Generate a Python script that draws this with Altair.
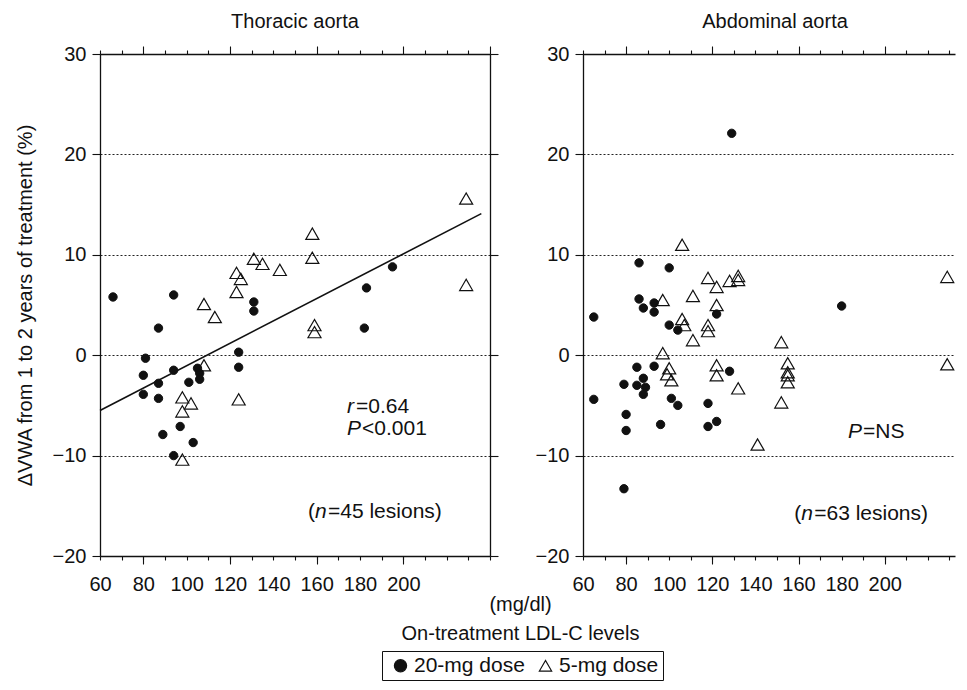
import altair as alt
import pandas as pd

FONT = "Liberation Sans"
INK = "#111111"

dose_names = ["20-mg dose", "5-mg dose"]
panel_titles = ["Thoracic aorta", "Abdominal aorta"]
y_title = "ΔVWA from 1 to 2 years of treatment (%)"
x_title = ["(mg/dl)", "On-treatment LDL-C levels"]

x_tick_values = list(range(60, 241, 10))
x_major_values = [80, 120, 160, 200, 240]
y_tick_values = list(range(-20, 31, 10))

# ---- Thoracic aorta ----
th_c_ldl = [66, 94, 87, 81, 80, 80, 87, 87, 94, 89, 97, 103, 94, 101, 105, 106, 106,
            124, 124, 131, 131, 195, 183, 182]
th_c_dvwa = [5.8, 6.0, 2.7, -0.3, -2.0, -3.9, -2.8, -4.3, -1.5, -7.9, -7.1, -8.7, -10.0,
             -2.7, -1.3, -1.8, -2.4, 0.3, -1.2, 5.3, 4.4, 8.8, 6.7, 2.7]
th_t_ldl = [131, 135, 143, 158, 158, 229, 229, 123, 125, 123, 108, 113, 159, 159, 108,
            124, 98, 102, 98, 98]
th_t_dvwa = [9.6, 9.1, 8.5, 9.7, 12.1, 15.6, 7.0, 8.2, 7.6, 6.3, 5.1, 3.8, 3.0, 2.3, -1.0,
             -4.4, -4.2, -4.8, -5.6, -10.4]
fit_ldl = [60, 236]
fit_dvwa = [-5.5, 14.1]

th_note_ldl = [174, 174, 156]
th_note_dvwa = [-5.2, -7.4, -15.6]
th_note_parts = [[("r", True, 0), ("=0.64", False, 9)],
                 [("P", True, 0), ("<0.001", False, 15)],
                 [("(", False, 0), ("n", True, 7), ("=45 lesions)", False, 20)]]

# ---- Abdominal aorta ----
ab_c_ldl = [65, 65, 86, 100, 86, 88, 93, 93, 100, 104, 122, 180, 85, 93, 88, 85, 89, 88,
            79, 80, 80, 96, 101, 104, 118, 118, 122, 128, 129, 79]
ab_c_dvwa = [3.8, -4.4, 9.2, 8.7, 5.6, 4.7, 5.2, 4.3, 3.0, 2.5, 4.1, 4.9, -1.2, -1.1, -2.3,
             -3.0, -3.2, -3.9, -2.9, -5.9, -7.5, -6.9, -4.3, -5.0, -4.8, -7.1, -6.6, -1.6,
             22.1, -13.3]
ab_t_ldl = [106, 118, 122, 128, 132, 132, 111, 97, 122, 106, 107, 118, 118, 111, 97, 100,
            99, 101, 122, 122, 132, 141, 152, 152, 155, 155, 155, 155, 229, 229]
ab_t_dvwa = [11.0, 7.7, 6.8, 7.4, 7.9, 7.5, 5.9, 5.5, 5.0, 3.6, 3.0, 3.0, 2.4, 1.5, 0.2,
             -1.3, -1.9, -2.5, -1.0, -2.0, -3.3, -8.9, 1.3, -4.7, -0.8, -1.7, -2.0, -2.7,
             7.8, -0.9]

ab_note_ldl = [183, 158]
ab_note_dvwa = [-7.6, -15.8]
ab_note_parts = [[("P", True, 0), ("=NS", False, 15)],
                 [("(", False, 0), ("n", True, 7), ("=63 lesions)", False, 20)]]

ys = alt.Scale(domain=[-20, 30], nice=False, zero=False)
shape_scale = alt.Scale(domain=dose_names, range=["circle", "triangle-up"])
fill_scale = alt.Scale(domain=dose_names, range=[INK, "transparent"])
stroke_scale = alt.Scale(domain=dose_names, range=[INK, INK])

legend = alt.Legend(orient="none", legendX=282, legendY=597, direction="horizontal",
                    title=None, symbolStrokeColor=INK, symbolStrokeWidth=1.2)

major_tick = {"condition": {"test": "datum.value % 40 === 0", "value": 8}, "value": 4}
AX = dict(domain=True, domainColor=INK, domainWidth=1.3, tickColor=INK, tickWidth=1.1)


def panel(title, c_ldl, c_dvwa, t_ldl, t_dvwa, n_ldl, n_dvwa, n_parts, first,
          width, xmax, title_dx=0, fit=None):
    xs = alt.Scale(domain=[60, xmax], nice=False, zero=False)
    xvals = [v for v in x_tick_values if v <= xmax]
    majors = [v for v in x_major_values if v < xmax]
    circ = pd.DataFrame({"ldl": c_ldl, "dvwa": c_dvwa, "dose": dose_names[0]})
    tri = pd.DataFrame({"ldl": t_ldl, "dvwa": t_dvwa, "dose": dose_names[1]})

    bottom_kw = dict(orient="bottom", values=xvals, tickSize=4,
                     labelExpr="datum.value <= 200 && datum.value % 20 === 0 ? datum.label : ''",
                     labelFlush=False, labelOverlap=False, labelPadding=14,
                     grid=False, **AX)
    if first:
        bottom_kw.update(title=x_title, titleX=420, titleY=38, titleBaseline="top",
                         titleAlign="center", titleLineHeight=29)
    else:
        bottom_kw.update(title=None)
    bottom_major = alt.Axis(orient="bottom", values=majors, tickSize=8, labels=False,
                            domain=False, grid=False, title=None, tickColor=INK,
                            tickWidth=1.1)
    left_kw = dict(orient="left", values=y_tick_values, tickSize=8, labelPadding=6,
                   grid=True, gridDash=[2, 2], gridColor="#222222", gridWidth=1, **AX)
    if first:
        left_kw.update(title=y_title, titlePadding=17)
    else:
        left_kw.update(title=None)

    top_axis = alt.Axis(orient="top", values=xvals, tickSize=major_tick,
                        labels=False, grid=False, title=None, **AX)
    if first:
        right_axis = alt.Axis(orient="right", values=y_tick_values, tickSize=8,
                              labels=False, grid=False, title=None, **AX)
    else:
        right_axis = alt.Axis(orient="right", values=y_tick_values, ticks=False,
                              labels=False, grid=False, title=None, domain=False)

    def enc(axis_x, axis_y):
        return dict(
            x=alt.X("ldl:Q", scale=xs, axis=axis_x),
            y=alt.Y("dvwa:Q", scale=ys, axis=axis_y),
            shape=alt.Shape("dose:N", scale=shape_scale, legend=legend),
            fill=alt.Fill("dose:N", scale=fill_scale, legend=legend),
            stroke=alt.Stroke("dose:N", scale=stroke_scale, legend=legend),
        )

    layers = []
    circles = alt.Chart(circ).mark_point(filled=False, size=70, strokeWidth=1,
                                         opacity=1).encode(
        **enc(alt.Axis(**bottom_kw), alt.Axis(**left_kw)))
    layers.append(circles)
    triangles = alt.Chart(tri).mark_point(filled=False, size=170, strokeWidth=1.2,
                                          opacity=1).encode(**enc(top_axis, right_axis))
    layers.append(triangles)
    if fit is not None:
        fdf = pd.DataFrame({"ldl": fit[0], "dvwa": fit[1]})
        layers.append(alt.Chart(fdf).mark_line(color=INK, strokeWidth=1.6).encode(
            x=alt.X("ldl:Q", scale=xs, axis=None),
            y=alt.Y("dvwa:Q", scale=ys, axis=None)))
    carrier_used = False
    for nx, ny, parts in zip(n_ldl, n_dvwa, n_parts):
        for txt, italic, dx in parts:
            tdf = pd.DataFrame({"ldl": [nx], "dvwa": [ny], "txt": [txt]})
            xaxis = None if carrier_used else bottom_major
            carrier_used = True
            layers.append(alt.Chart(tdf).mark_text(
                align="left", baseline="middle", dx=dx, fontSize=21, font=FONT,
                fontStyle="italic" if italic else "normal", color=INK).encode(
                x=alt.X("ldl:Q", scale=xs, axis=xaxis),
                y=alt.Y("dvwa:Q", scale=ys, axis=None),
                text="txt:N"))
    return alt.layer(*layers).resolve_axis(x="independent").properties(
        width=width, height=502,
        title=alt.TitleParams(title, offset=11, dy=-1, dx=title_dx, fontSize=20,
                              fontWeight="normal", font=FONT, color=INK))


left = panel(panel_titles[0], th_c_ldl, th_c_dvwa, th_t_ldl, th_t_dvwa,
             th_note_ldl, th_note_dvwa, th_note_parts, True, 390, 240,
             fit=(fit_ldl, fit_dvwa))
right = panel(panel_titles[1], ab_c_ldl, ab_c_dvwa, ab_t_ldl, ab_t_dvwa,
              ab_note_ldl, ab_note_dvwa, ab_note_parts, False, 372, 232.6, title_dx=6)

chart = alt.hconcat(left, right, spacing=93, bounds="flush").properties(
    padding={"left": 7, "top": 4, "right": 0, "bottom": 0},
    background="white",
).configure(font=FONT).configure_view(
    strokeWidth=0
).configure_axis(
    labelFont=FONT, titleFont=FONT, labelFontSize=20, titleFontSize=20,
    titleFontWeight="normal", labelColor=INK, titleColor=INK
).configure_legend(
    labelFont=FONT, labelFontSize=21, labelColor=INK, strokeColor=INK,
    fillColor="white", padding=4, symbolSize=150, symbolStrokeColor=INK,
    symbolStrokeWidth=1.2, columnPadding=6, labelOffset=3, symbolOffset=4
)

chart.save("out.html", embed_options={"renderer": "svg", "actions": False})
